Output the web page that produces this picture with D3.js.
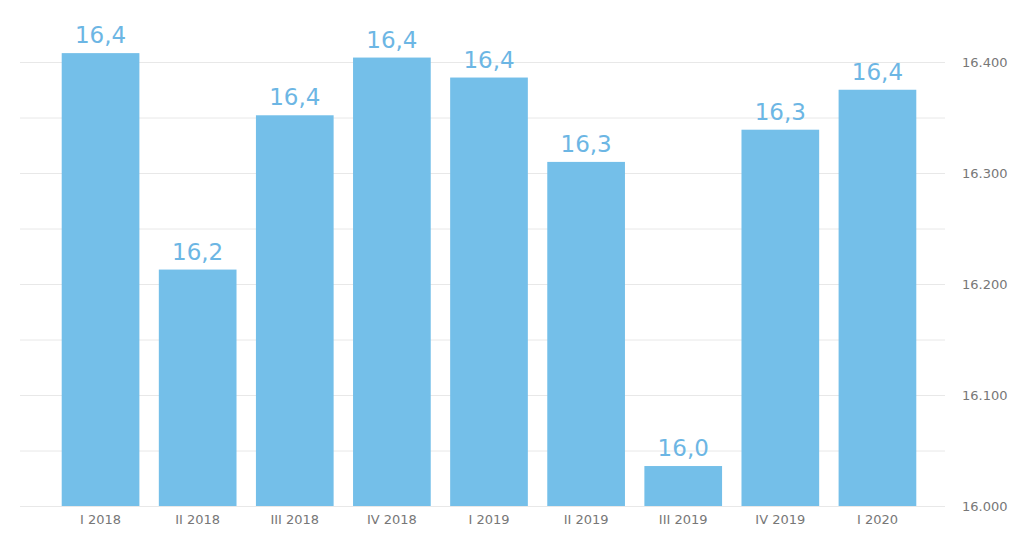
<!DOCTYPE html>
<html>
<head>
<meta charset="utf-8">
<script src="https://cdn.jsdelivr.net/npm/d3@7"></script>
<style>
  body { margin: 0; background: #fff; }
  text { font-family: "DejaVu Sans", Verdana, sans-serif; }
</style>
</head>
<body>
<div class="container"></div>
<script>
const quarters = ["I 2018", "II 2018", "III 2018", "IV 2018", "I 2019", "II 2019", "III 2019", "IV 2019", "I 2020"];
const values = [16408, 16213, 16352, 16404, 16386, 16310, 16036, 16339, 16375];
const yTicks = [16000, 16100, 16200, 16300, 16400];
const gridTicks = [16000, 16050, 16100, 16150, 16200, 16250, 16300, 16350, 16400];

const width = 1025;
const height = 535;

const svg = d3.select("div.container")
    .append("svg")
    .attr("width", width)
    .attr("height", height);

const x = d3.scaleBand().domain(quarters).range([52, 926]).paddingInner(0.2).paddingOuter(0.1);
const y = d3.scaleLinear().domain([16000, 16400]).range([506, 62]);

// gridlines
svg.append("g")
    .selectAll("line")
    .data(gridTicks)
    .enter()
    .append("line")
    .attr("x1", 20)
    .attr("x2", 945)
    .attr("y1", d => y(d) + 0.5)
    .attr("y2", d => y(d) + 0.5)
    .attr("stroke", "#e8e8e8")
    .attr("stroke-width", 1);

// bars
svg.append("g")
    .selectAll("rect")
    .data(values)
    .enter()
    .append("rect")
    .attr("x", (d, i) => x(quarters[i]))
    .attr("y", d => y(d))
    .attr("width", x.bandwidth())
    .attr("height", d => y(16000) - y(d))
    .attr("fill", "#74bfe9");

// value labels
svg.append("g")
    .selectAll("text")
    .data(values)
    .enter()
    .append("text")
    .attr("x", (d, i) => x(quarters[i]) + x.bandwidth() / 2)
    .attr("y", d => y(d) - 10)
    .attr("text-anchor", "middle")
    .attr("font-size", "23px")
    .attr("fill", "#6cb6e4")
    .text(d => (d / 1000).toFixed(1).replace(".", ","));

// right axis
const yAxis = d3.axisRight(y)
    .tickValues(yTicks)
    .tickSize(0)
    .tickPadding(0)
    .tickFormat(d => d3.format(",")(d).replace(",", "."));

const ga = svg.append("g")
    .attr("transform", "translate(962,0)")
    .call(yAxis);
ga.select(".domain").remove();
ga.selectAll("text")
    .attr("font-size", "13px")
    .attr("fill", "#777");

// bottom axis
const xAxis = d3.axisBottom(x).tickSize(0).tickPadding(9);
const gx = svg.append("g")
    .attr("transform", "translate(0,506)")
    .call(xAxis);
gx.select(".domain").remove();
gx.selectAll("text")
    .attr("font-size", "13px")
    .attr("fill", "#777");
</script>
</body>
</html>
